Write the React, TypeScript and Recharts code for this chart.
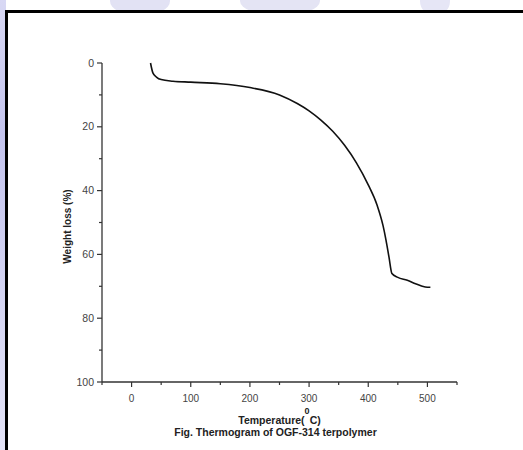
import React from "react";
import { LineChart, Line, XAxis, YAxis } from "recharts";

// TGA trace: temperature (°C) vs weight loss (%)
const temperature = [
  32, 36, 42, 50, 70, 100, 150, 200, 250, 280, 300, 320, 340, 360, 380, 400,
  415, 425, 430, 435, 440, 450, 466, 480, 490, 500, 505,
];
const weightLoss = [
  0, 3.1, 4.4, 5.2, 5.7, 6.0, 6.5, 7.7, 10.0, 12.7, 15.0, 17.9, 21.4, 25.8,
  31.3, 38.2, 44.6, 51.0, 55.5, 60.8, 66.0, 67.2, 68.1, 69.2, 69.9, 70.3, 70.3,
];

const xTicks = [-50, 0, 50, 100, 150, 200, 250, 300, 350, 400, 450, 500, 550];
const yTicks = [0, 10, 20, 30, 40, 50, 60, 70, 80, 90, 100];

const data = temperature.map((t, i) => ({ t, w: weightLoss[i] }));

const AXIS = "#333";
const FONT = "'Liberation Sans', Arial, sans-serif";

const YTick = ({ x, y, payload }: any) => {
  const major = payload.value % 20 === 0;
  return (
    <g>
      <line x1={x} x2={x - (major ? 5 : 3)} y1={y} y2={y} stroke={AXIS} strokeWidth={1.2} />
      {major && (
        <text x={x - 8} y={y} dy={3.5} textAnchor="end" fontSize={10.5} fill="#444" fontFamily={FONT}>
          {payload.value}
        </text>
      )}
    </g>
  );
};

const XTick = ({ x, y, payload }: any) => {
  const v = payload.value;
  const major = v % 100 === 0;
  return (
    <g>
      <line x1={x} x2={x} y1={y} y2={y + (major ? 5 : 3)} stroke={AXIS} strokeWidth={1.2} />
      {major && v >= 0 && v <= 500 && (
        <text x={x} y={y + 19.5} textAnchor="middle" fontSize={10} fill="#444" fontFamily={FONT}>
          {v}
        </text>
      )}
    </g>
  );
};

const XTitle = ({ viewBox }: any) => {
  const cx = viewBox.x + viewBox.width / 2;
  const top = viewBox.y;
  return (
    <g fontFamily={FONT} fill="#222" fontWeight="bold">
      <text x={cx} y={top + 42} textAnchor="middle" fontSize={10.5}>
        Temperature(
        <tspan dy={-10} fontSize={9}>0</tspan>
        <tspan dy={10}>C)</tspan>
      </text>
      <text x={cx - 4} y={top + 54} textAnchor="middle" fontSize={10.5}>
        Fig. Thermogram of OGF-314 terpolymer
      </text>
    </g>
  );
};

const YTitle = ({ viewBox }: any) => {
  const cx = 67;
  const cy = viewBox.y + viewBox.height / 2 + 4;
  return (
    <text
      x={cx}
      y={cy}
      transform={`rotate(-90 ${cx} ${cy})`}
      textAnchor="middle"
      dominantBaseline="central"
      fontSize={10}
      fontWeight="bold"
      fill="#222"
      fontFamily={FONT}
    >
      Weight loss (%)
    </text>
  );
};

export default function App() {
  return (
    <div
      style={{
        position: "absolute",
        left: 0,
        top: 0,
        width: 523,
        height: 450,
        background: "#fff",
        overflow: "hidden",
      }}
    >
      {/* faint watermark showing around the frame */}
      <div style={{ position: "absolute", left: 0, top: 0, width: 6, height: 450, background: "linear-gradient(#d8d8f4, #c4c4ee 30%, #e4e4f8)" }} />
      <div style={{ position: "absolute", left: 110, top: -14, width: 60, height: 30, borderRadius: "50%", background: "#e2e2f4" }} />
      <div style={{ position: "absolute", left: 240, top: -14, width: 80, height: 30, borderRadius: "50%", background: "#e4e4f4" }} />
      <div style={{ position: "absolute", left: 420, top: -14, width: 30, height: 30, borderRadius: "50%", background: "#e6e6f6" }} />
      <div
        style={{
          position: "absolute",
          left: 5,
          top: 10,
          width: 530,
          height: 460,
          borderLeft: "3px solid #000",
          borderTop: "3px solid #000",
          background: "#fff",
        }}
      />
      <div style={{ position: "absolute", left: 0, top: 0 }}>
        <LineChart
          width={523}
          height={450}
          data={data}
          margin={{ top: 63, right: 66, bottom: 38, left: 62 }}
        >
          <XAxis
            dataKey="t"
            type="number"
            domain={[-50, 550]}
            ticks={xTicks}
            interval={0}
            allowDataOverflow
            height={30}
            stroke={AXIS}
            strokeWidth={1.3}
            tickLine={false}
            tickSize={0}
            tickMargin={0}
            tick={<XTick />}
            label={<XTitle />}
          />
          <YAxis
            dataKey="w"
            type="number"
            domain={[0, 100]}
            reversed
            ticks={yTicks}
            interval={0}
            width={40}
            stroke={AXIS}
            strokeWidth={1.3}
            tickLine={false}
            tickSize={0}
            tickMargin={0}
            tick={<YTick />}
            label={<YTitle />}
          />
          <Line
            type="monotone"
            dataKey="w"
            stroke="#111"
            strokeWidth={1.6}
            dot={false}
            isAnimationActive={false}
          />
        </LineChart>
      </div>
    </div>
  );
}
